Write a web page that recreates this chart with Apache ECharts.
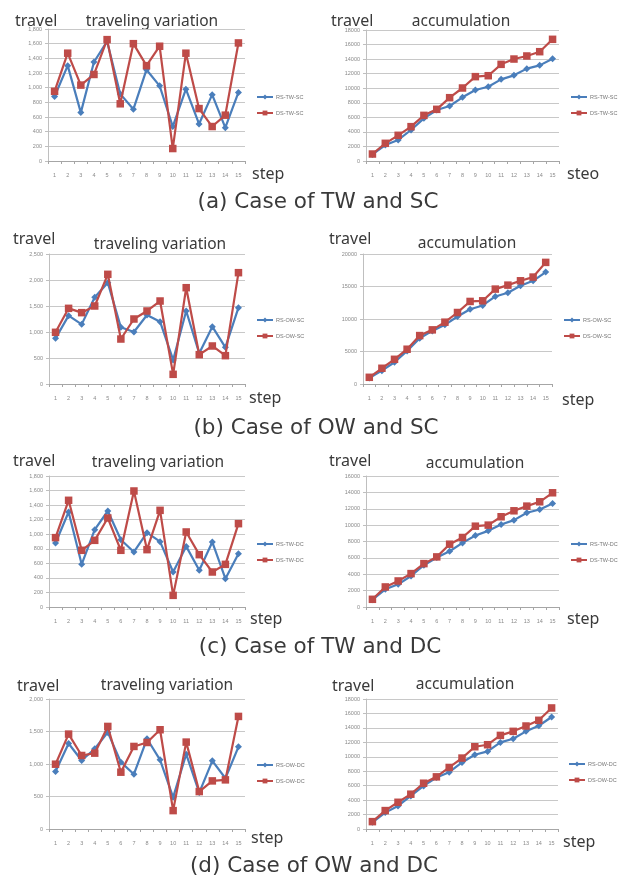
<!DOCTYPE html>
<html>
<head>
<meta charset="utf-8">
<script src="https://cdn.jsdelivr.net/npm/echarts@6/dist/echarts.min.js"></script>
<style>
html,body{margin:0;padding:0;background:#fff;}
#chart{width:634px;height:879px;}
</style>
</head>
<body>
<div id="chart"></div>
<script>
// ---- data ----
var steps = ['1','2','3','4','5','6','7','8','9','10','11','12','13','14','15'];

var rsTwSc = [880, 1300, 660, 1350, 1630, 915, 705, 1245, 1025, 470, 980, 505, 905, 455, 935];
var dsTwSc = [950, 1470, 1035, 1180, 1655, 780, 1600, 1300, 1565, 170, 1470, 715, 470, 625, 1610];
var rsTwScAcc = [900, 2200, 2890, 4260, 5860, 7000, 7560, 8750, 9760, 10210, 11220, 11770, 12690, 13140, 14060];
var dsTwScAcc = [960, 2430, 3530, 4720, 6270, 7100, 8700, 10030, 11590, 11720, 13280, 14010, 14430, 15020, 16720];

var rsOwSc = [878, 1314, 1147, 1667, 1949, 1090, 1000, 1327, 1199, 462, 1404, 590, 1103, 705, 1468];
var dsOwSc = [994, 1455, 1372, 1500, 2109, 865, 1250, 1404, 1596, 186, 1852, 564, 731, 545, 2141];
var rsOwScAcc = [925, 2056, 3340, 5090, 7040, 8170, 9100, 10380, 11510, 12080, 13470, 14030, 15110, 15880, 17220];
var dsOwScAcc = [1030, 2420, 3800, 5350, 7450, 8330, 9510, 11000, 12700, 12800, 14600, 15210, 15880, 16450, 18710];

var rsTwDc = [879, 1305, 586, 1063, 1319, 925, 756, 1021, 898, 481, 833, 504, 893, 389, 733];
var dsTwDc = [953, 1466, 779, 916, 1223, 779, 1594, 788, 1328, 160, 1031, 719, 481, 586, 1145];
var rsTwDcAcc = [900, 2160, 2770, 3790, 5100, 6040, 6810, 7830, 8730, 9300, 10080, 10610, 11510, 11910, 12650];
var dsTwDcAcc = [940, 2450, 3180, 4080, 5300, 6120, 7670, 8490, 9870, 10000, 11020, 11750, 12320, 12850, 13950];

var rsOwDc = [884, 1316, 1054, 1234, 1486, 1028, 843, 1388, 1064, 488, 1151, 560, 1049, 781, 1264];
var dsOwDc = [997, 1460, 1131, 1167, 1578, 874, 1270, 1331, 1527, 283, 1337, 576, 740, 756, 1732];
var rsOwDcAcc = [930, 2270, 3190, 4580, 5970, 7130, 7870, 9210, 10280, 10740, 11990, 12500, 13520, 14300, 15510];
var dsOwDcAcc = [1020, 2550, 3700, 4820, 6340, 7220, 8520, 9820, 11390, 11670, 12960, 13520, 14260, 15050, 16760];

var seriesNames = [
  ['RS-TW-SC','DS-TW-SC'],
  ['RS-OW-SC','DS-OW-SC'],
  ['RS-TW-DC','DS-TW-DC'],
  ['RS-OW-DC','DS-OW-DC']
];
var captions = ['(a) Case of TW and SC','(b) Case of OW and SC','(c) Case of TW and DC','(d) Case of OW and DC'];
var leftTitle = 'traveling variation';
var rightTitle = 'accumulation';
var yName = 'travel';
var xNames = [['step','steo'],['step','step'],['step','step'],['step','step']];

// ---- layout ----
var BLUE = '#4a7ebb', RED = '#be4b48';
var panels = [
  // row a
  {data:[rsTwSc, dsTwSc], names:seriesNames[0], max:1800, interval:200, comma:true,
   grid:{left:48, top:29, width:197, height:132}, legend:{left:256, top:94}},
  {data:[rsTwScAcc, dsTwScAcc], names:seriesNames[0], max:18000, interval:2000, comma:false,
   grid:{left:366, top:30, width:193, height:131}, legend:{left:570, top:94}},
  // row b
  {data:[rsOwSc, dsOwSc], names:seriesNames[1], max:2500, interval:500, comma:true,
   grid:{left:49, top:254, width:196, height:130}, legend:{left:256, top:317}},
  {data:[rsOwScAcc, dsOwScAcc], names:seriesNames[1], max:20000, interval:5000, comma:false,
   grid:{left:363, top:254, width:189, height:130}, legend:{left:563, top:317}},
  // row c
  {data:[rsTwDc, dsTwDc], names:seriesNames[2], max:1800, interval:200, comma:true,
   grid:{left:49, top:476, width:196, height:131}, legend:{left:256, top:541}},
  {data:[rsTwDcAcc, dsTwDcAcc], names:seriesNames[2], max:16000, interval:2000, comma:false,
   grid:{left:366, top:476, width:193, height:131}, legend:{left:570, top:541}},
  // row d
  {data:[rsOwDc, dsOwDc], names:seriesNames[3], max:2000, interval:500, comma:true,
   grid:{left:49, top:699, width:196, height:130}, legend:{left:256, top:762}},
  {data:[rsOwDcAcc, dsOwDcAcc], names:seriesNames[3], max:18000, interval:2000, comma:false,
   grid:{left:366, top:699, width:192, height:130}, legend:{left:568, top:761}}
];

function fmtComma(v){ return String(v).replace(/\B(?=(\d{3})+(?!\d))/g, ','); }

var grids = [], xAxes = [], yAxes = [], series = [], legends = [];
panels.forEach(function(p, i){
  grids.push(Object.assign({containLabel:false}, p.grid));
  xAxes.push({
    type:'category', gridIndex:i, data:steps, boundaryGap:true,
    axisLine:{lineStyle:{color:'#a6a6a6', width:1}},
    axisTick:{show:true, length:3, lineStyle:{color:'#a6a6a6'}},
    axisLabel:{fontSize:5.5, color:'#8a8a8a', margin:11, interval:0, fontFamily:'Arial, Liberation Sans'}
  });
  yAxes.push({
    type:'value', gridIndex:i, min:0, max:p.max, interval:p.interval,
    axisLine:{show:true, lineStyle:{color:'#bfbfbf', width:1}},
    axisTick:{show:true, length:3, lineStyle:{color:'#bfbfbf'}},
    splitLine:{show:true, lineStyle:{color:'#c8c8c8', width:1.2}},
    axisLabel:{fontSize:5.5, color:'#8a8a8a', margin:6, fontFamily:'Arial, Liberation Sans',
      formatter: p.comma ? fmtComma : function(v){return String(v);} }
  });
  series.push({
    name:p.names[0], type:'line', xAxisIndex:i, yAxisIndex:i, data:p.data[0],
    symbol:'diamond', symbolSize:7, color:BLUE,
    lineStyle:{color:BLUE, width:2.2}, itemStyle:{color:BLUE}, z:2, animation:false
  });
  series.push({
    name:p.names[1], type:'line', xAxisIndex:i, yAxisIndex:i, data:p.data[1],
    symbol:'rect', symbolSize:7.5, color:RED,
    lineStyle:{color:RED, width:2.2}, itemStyle:{color:RED}, z:3, animation:false
  });
  legends.push({
    data:p.names, orient:'vertical', left:p.legend.left, top:p.legend.top,
    itemWidth:16, itemHeight:6, itemGap:10, padding:0,
    textStyle:{fontSize:5.5, color:'#777', padding:[0,0,0,-2]},
    selectedMode:false
  });
});

function txt(x, y, s, size, align, family){
  return {type:'text', silent:true, style:{
    x:x, y:y, text:s, fill:'#3a3a3a', align:align||'left', verticalAlign:'middle',
    font: size + 'px ' + (family || '"Noto Sans", sans-serif')
  }};
}

var graphics = [];
// texts of each row: [travelLeftX, travelLeftY, titleLeftCx, titleLeftY, stepLeftX, stepLeftY,
//                     travelRightX, travelRightY, titleRightCx, titleRightY, stepRightX, stepRightY, capCx, capY]
var rowText = [
  [15,21, 152,22, 252,174, 331,21, 461,22, 567,174, 318,202],
  [13,239, 160,245, 249,398, 329,239, 467,244, 562,400, 316,428],
  [13,461, 158,463, 250,619, 329,461, 475,464, 567,619, 320,647],
  [17,686, 167,686, 251,838, 332,686, 465,685, 563,842, 314,866]
];
rowText.forEach(function(r, k){
  graphics.push(txt(r[0], r[1], yName, 16));
  graphics.push(txt(r[2], r[3], leftTitle, 15.5, 'center'));
  graphics.push(txt(r[4], r[5], xNames[k][0], 16));
  graphics.push(txt(r[6], r[7], yName, 16));
  graphics.push(txt(r[8], r[9], rightTitle, 15.5, 'center'));
  graphics.push(txt(r[10], r[11], xNames[k][1], 16));
  graphics.push(txt(r[12], r[13], captions[k], 21.5, 'center', '"DejaVu Sans", sans-serif'));
});

var chart = echarts.init(document.getElementById('chart'), null, {renderer:'canvas'});
chart.setOption({
  backgroundColor:'#ffffff',
  animation:false,
  grid:grids, xAxis:xAxes, yAxis:yAxes, series:series, legend:legends,
  graphic:graphics
});
</script>
</body>
</html>
